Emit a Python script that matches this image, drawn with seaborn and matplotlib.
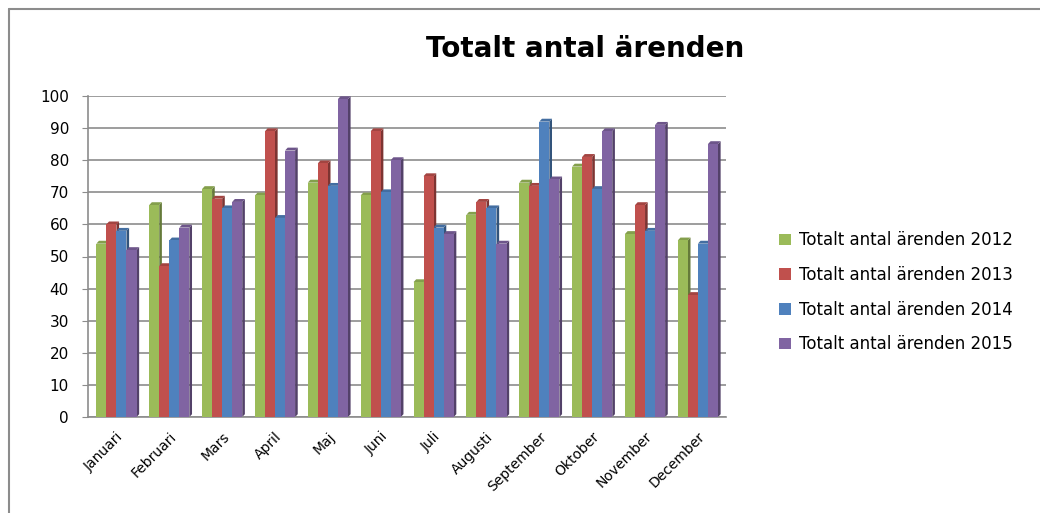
import matplotlib
matplotlib.use("Agg")
import matplotlib.pyplot as plt
import seaborn as sns
import pandas as pd
import numpy as np
from matplotlib.patches import Polygon
from matplotlib.lines import Line2D
import matplotlib.colors as mcolors

months = ["Januari", "Februari", "Mars", "April", "Maj", "Juni", "Juli",
          "Augusti", "September", "Oktober", "November", "December"]
series_names = ["Totalt antal ärenden 2012", "Totalt antal ärenden 2013",
                "Totalt antal ärenden 2014", "Totalt antal ärenden 2015"]
v2012 = [54, 66, 71, 69, 73, 69, 42, 63, 73, 78, 57, 55]
v2013 = [60, 47, 68, 89, 79, 89, 75, 67, 72, 81, 66, 38]
v2014 = [58, 55, 65, 62, 72, 70, 59, 65, 92, 71, 58, 54]
v2015 = [52, 59, 67, 83, 99, 80, 57, 54, 74, 89, 91, 85]
colors = ["#9BBB59", "#C0504D", "#4F81BD", "#8064A2"]

rows = []
for name, vals in zip(series_names, [v2012, v2013, v2014, v2015]):
    for m, v in zip(months, vals):
        rows.append({"Månad": m, "Serie": name, "Antal": v})
df = pd.DataFrame(rows)

sns.set_style("white")
plt.rcParams['font.family'] = ['DejaVu Sans']
plt.rcParams['text.color'] = 'black'
plt.rcParams['xtick.color'] = 'black'
plt.rcParams['ytick.color'] = 'black'

fig = plt.figure(figsize=(10.4, 5.13), dpi=100)
ax = fig.add_axes([0.085, 0.187, 0.613, 0.626])

sns.barplot(data=df, x="Månad", y="Antal", hue="Serie", order=months,
            hue_order=series_names, palette=colors, width=0.76,
            saturation=1, ax=ax, zorder=3, linewidth=0)

# pseudo-3D side and top faces derived from the drawn bars
dx, dy = 0.05, 0.9
for patch in ax.patches:
    x0 = patch.get_x()
    w = patch.get_width()
    h = patch.get_height()
    if w == 0 or h == 0:
        continue
    c = np.array(mcolors.to_rgb(patch.get_facecolor()))
    dark = tuple(c * 0.65)
    light = tuple(np.clip(c * 0.85, 0, 1))
    x1 = x0 + w
    side = Polygon([(x1, 0), (x1 + dx, dy), (x1 + dx, h + dy), (x1, h)],
                   closed=True, facecolor=dark, edgecolor="none", zorder=2.5)
    top = Polygon([(x0, h), (x0 + dx, h + dy), (x1 + dx, h + dy), (x1, h)],
                  closed=True, facecolor=light, edgecolor="none", zorder=2.5)
    ax.add_patch(side)
    ax.add_patch(top)

ax.set_ylim(0, 100)
ax.set_yticks(range(0, 101, 10))
ax.set_xlim(-0.53, 11.53)
ax.yaxis.grid(True, color="#8c8c8c", linewidth=1.2, zorder=0)
ax.set_axisbelow(True)
ax.set_xlabel("")
ax.set_ylabel("")
for s in ["top", "right"]:
    ax.spines[s].set_visible(False)
for s in ["left", "bottom"]:
    ax.spines[s].set_color("#8c8c8c")
    ax.spines[s].set_linewidth(1.2)
ax.tick_params(axis="y", labelsize=11, length=4, color="#8c8c8c", left=True,
               pad=10, labelcolor="black")
ax.tick_params(axis="x", labelsize=10, length=0, pad=9, labelcolor="black")
plt.setp(ax.get_xticklabels(), rotation=45, ha="right", rotation_mode="anchor")

handles, labels = ax.get_legend_handles_labels()
ax.legend(handles, labels, loc="center left", bbox_to_anchor=(0.735, 0.43),
          bbox_transform=fig.transFigure, frameon=False, fontsize=12,
          handlelength=0.7, handleheight=0.7, handletextpad=0.5,
          labelspacing=1.0, labelcolor="black")

fig.text(0.563, 0.905, "Totalt antal ärenden", ha="center", va="center",
         fontsize=20, fontweight="bold", color="black")

# chart border (left and top)
fig.add_artist(Line2D([9 / 1040, 9 / 1040], [1 - 9 / 513, 0], color="#8c8c8c",
                      linewidth=1.5, transform=fig.transFigure))
fig.add_artist(Line2D([9 / 1040, 1], [1 - 9 / 513, 1 - 9 / 513], color="#8c8c8c",
                      linewidth=1.5, transform=fig.transFigure))

fig.savefig("out.png", dpi=100)
